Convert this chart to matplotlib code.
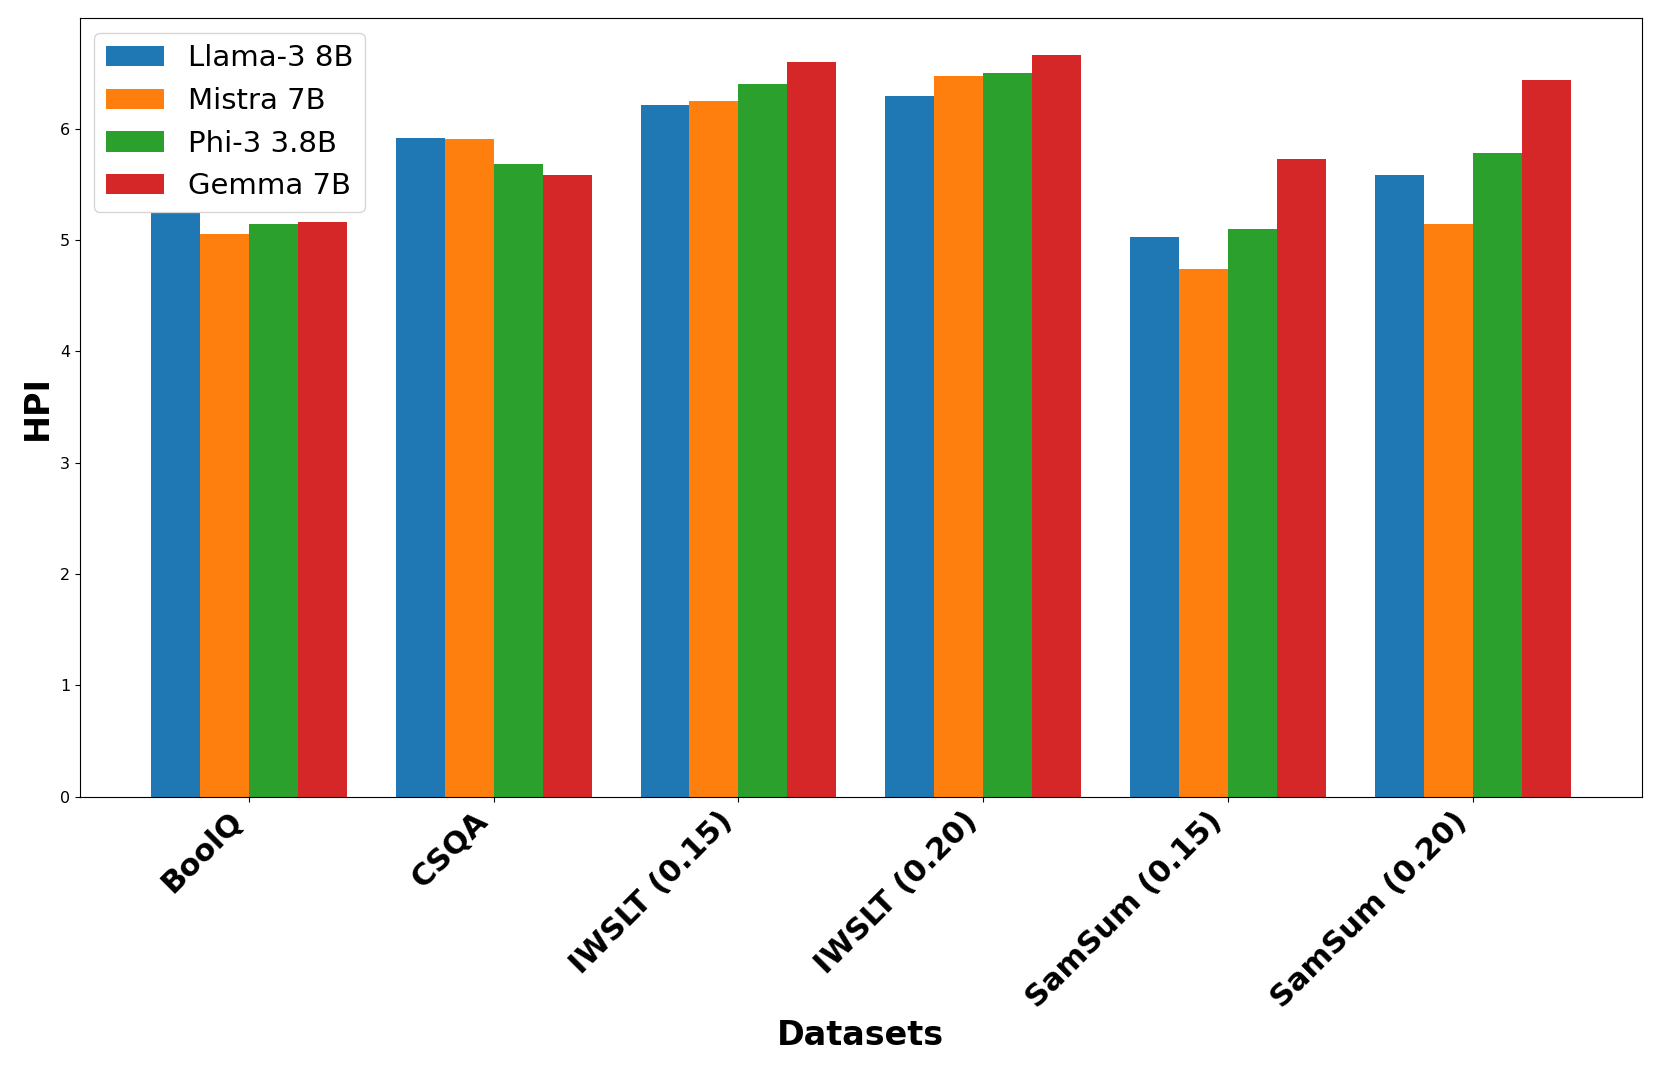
import matplotlib
matplotlib.use("Agg")
import matplotlib.pyplot as plt
import numpy as np

datasets = ["BoolQ", "CSQA", "IWSLT (0.15)", "IWSLT (0.20)", "SamSum (0.15)", "SamSum (0.20)"]
models = ["Llama-3 8B", "Mistra 7B", "Phi-3 3.8B", "Gemma 7B"]

llama = [5.24, 5.92, 6.21, 6.29, 5.03, 5.58]
mistra = [5.05, 5.91, 6.25, 6.47, 4.74, 5.14]
phi = [5.14, 5.68, 6.40, 6.50, 5.10, 5.78]
gemma = [5.16, 5.58, 6.60, 6.66, 5.73, 6.44]

series = [llama, mistra, phi, gemma]
colors = ["#1f77b4", "#ff7f0e", "#2ca02c", "#d62728"]

x = np.arange(len(datasets))
width = 0.2

fig, ax = plt.subplots(figsize=(16.61, 10.68), dpi=100)
for i, (name, vals) in enumerate(zip(models, series)):
    ax.bar(x + (i - 1.5) * width, vals, width, label=name, color=colors[i])

ax.set_xticks(x)
ax.set_xticklabels(datasets, rotation=45, ha="right", fontsize=22, fontweight="bold")
ax.tick_params(axis="y", labelsize=11.5)
ax.set_xlabel("Datasets", fontsize=24, fontweight="bold")
ax.set_ylabel("HPI", fontsize=24, fontweight="bold")
ax.legend(fontsize=21, loc="upper left")

fig.subplots_adjust(left=0.048, right=0.9886, top=0.983, bottom=0.254)
fig.savefig("out.png", dpi=100)
plt.close(fig)
